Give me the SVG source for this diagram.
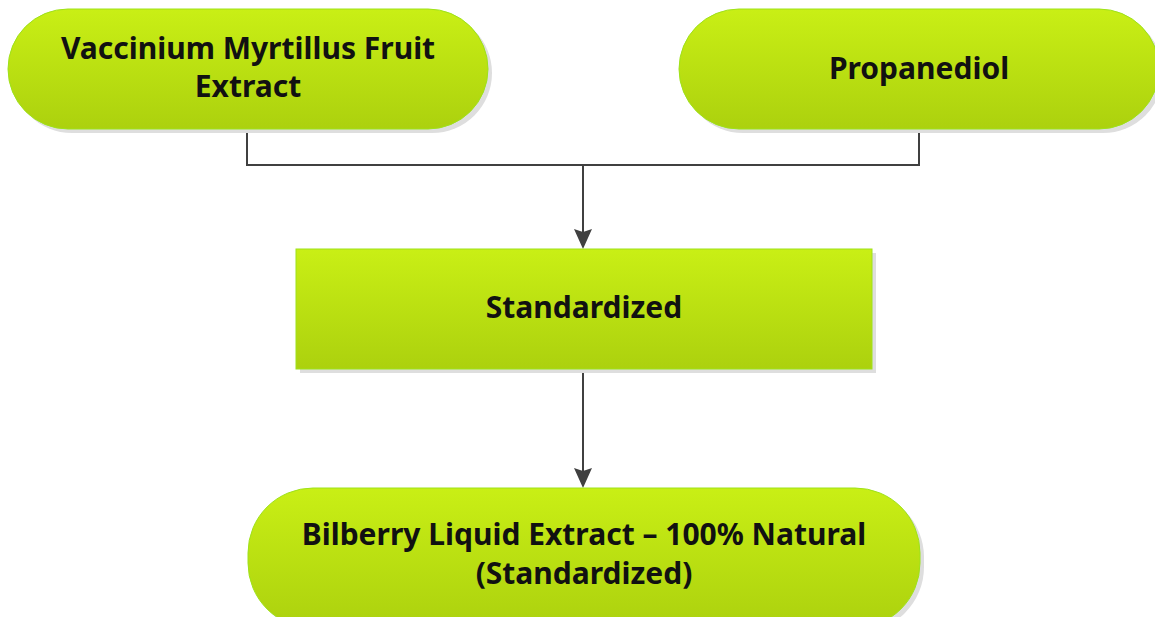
<svg xmlns="http://www.w3.org/2000/svg" width="1155" height="617" viewBox="0 0 1155 617">
<defs>
<linearGradient id="g" x1="0" y1="0" x2="0" y2="1">
<stop offset="0" stop-color="#c9ef15"/>
<stop offset="1" stop-color="#acd10e"/>
</linearGradient>
</defs>
<style>
.sh{fill:#dedede}
.nd{fill:url(#g);stroke:#9ee21a;stroke-width:1}
.t{font-family:"Noto Sans","Liberation Sans",sans-serif;font-weight:700;font-size:30px;fill:#111;text-anchor:middle}
.c{fill:none;stroke:#404040;stroke-width:2}
.ah{fill:#404040}
</style>
<rect width="1155" height="617" fill="#fff"/>
<g id="connectors">
<polyline class="c" points="247,129 247,165 919,165 919,129"/>
<line class="c" x1="583" y1="165" x2="583" y2="232"/>
<path class="ah" d="M574,229 L583,249 L592,229 L583,232 Z"/>
<line class="c" x1="583" y1="369" x2="583" y2="471"/>
<path class="ah" d="M574,468 L583,488 L592,468 L583,471 Z"/>
</g>
<g id="n1">
<rect class="sh" x="12" y="13" width="480" height="120" rx="60"/>
<rect class="nd" x="8" y="9" width="480" height="120" rx="60"/>
<text class="t" x="248" y="59">Vaccinium Myrtillus Fruit</text>
<text class="t" x="248" y="97">Extract</text>
</g>
<g id="n2">
<rect class="sh" x="683" y="13" width="480" height="120" rx="60"/>
<rect class="nd" x="679" y="9" width="480" height="120" rx="60"/>
<text class="t" x="919" y="79">Propanediol</text>
</g>
<g id="n3">
<rect class="sh" x="300" y="253" width="576" height="120"/>
<rect class="nd" x="296" y="249" width="576" height="120"/>
<text class="t" x="584" y="318">Standardized</text>
</g>
<g id="n4">
<rect class="sh" x="252" y="492" width="672" height="140" rx="65"/>
<rect class="nd" x="248" y="488" width="672" height="140" rx="65"/>
<text class="t" x="584" y="545">Bilberry Liquid Extract – 100% Natural</text>
<text class="t" x="584" y="584">(Standardized)</text>
</g>
</svg>
